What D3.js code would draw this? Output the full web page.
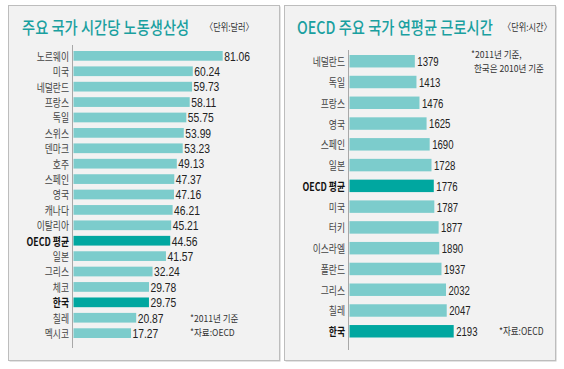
<!DOCTYPE html>
<html><head><meta charset="utf-8">
<script src="https://cdn.jsdelivr.net/npm/d3@7"></script>
<style>
html,body{margin:0;padding:0;background:#fff;}
svg{display:block;}
</style></head>
<body>
<script>
// ---- Data: left panel (hourly labour productivity, USD) ----
const prodCategories = ["노르웨이","미국","네덜란드","프랑스","독일","스위스","덴마크","호주","스페인","영국","캐나다","이탈리아","OECD 평균","일본","그리스","체코","한국","칠레","멕시코"];
const prodValues = [81.06,60.24,59.73,58.11,55.75,53.99,53.23,49.13,47.37,47.16,46.21,45.21,44.56,41.57,32.24,29.78,29.75,20.87,17.27];
const prodLabels = ["81.06","60.24","59.73","58.11","55.75","53.99","53.23","49.13","47.37","47.16","46.21","45.21","44.56","41.57","32.24","29.78","29.75","20.87","17.27"];
const prodHighlight = ["OECD 평균","한국"];

// ---- Data: right panel (annual average working hours) ----
const hoursCategories = ["네덜란드","독일","프랑스","영국","스페인","일본","OECD 평균","미국","터키","이스라엘","폴란드","그리스","칠레","한국"];
const hoursValues = [1379,1413,1476,1625,1690,1728,1776,1787,1877,1890,1937,2032,2047,2193];
const hoursHighlight = ["OECD 평균","한국"];

const leftTitle = "주요 국가 시간당 노동생산성";
const leftUnit = "〈단위:달러〉";
const leftNotes = ["*2011년 기준","*자료:OECD"];
const rightTitle = "OECD 주요 국가 연평균 근로시간";
const rightUnit = "〈단위:시간〉";
const rightNotes = ["*2011년 기준,","한국은 2010년 기준"];
const rightSource = "*자료:OECD";

const W = 564, H = 369;
const LIGHT = "#7ccccc", DARK = "#00a7a0", TITLE = "#1aa0a0";
const KR = "'Noto Sans CJK KR','Noto Sans',sans-serif";
const NUM = "'Liberation Sans Narrow','Liberation Sans',Arial,sans-serif";

const svg = d3.select("body").append("svg").attr("width", W).attr("height", H);

function panel(x0, x1, y0, y1) {
  svg.append("rect").attr("x", x0 + 1.5).attr("y", y0 + 1.5).attr("width", x1 - x0).attr("height", y1 - y0)
    .attr("fill", "#c8c8c8");
  svg.append("rect").attr("x", x0 + 0.5).attr("y", y0 + 0.5).attr("width", x1 - x0).attr("height", y1 - y0)
    .attr("fill", "#f2f2f2").attr("stroke", "#bdbdbd").attr("stroke-width", 1);
}

function ctext(g, x, y, str, opts) {
  return g.append("text")
    .attr("transform", `translate(${x},${y}) scale(${opts.sx || 1},1)`)
    .attr("text-anchor", opts.anchor || "start")
    .attr("dominant-baseline", "central")
    .attr("font-family", opts.family || KR)
    .attr("font-size", opts.size || 11)
    .attr("font-weight", opts.weight || 400)
    .attr("fill", opts.fill || "#333")
    .text(str);
}

panel(8, 279, 5, 360);
panel(284, 555, 5, 360);

// ---------- LEFT PANEL ----------
const gL = svg.append("g");
const yL = d3.scaleBand().domain(prodCategories).range([51, 338]).paddingInner(0.37).paddingOuter(0);
const xL = d3.scaleLinear().domain([-23.1, d3.max(prodValues)]).range([73, 222.7]);

ctext(gL, 22, 27, leftTitle, {size: 17, weight: 500, fill: TITLE, sx: 0.84});
ctext(gL, 205, 27, leftUnit, {size: 10, fill: "#333", sx: 0.82});

gL.append("line").attr("x1", 72.5).attr("x2", 72.5).attr("y1", 45).attr("y2", 348)
  .attr("stroke", "#a8a8a8").attr("stroke-width", 1);

gL.selectAll("rect.bar").data(prodCategories).join("rect").attr("class", "bar")
  .attr("x", xL(xL.domain()[0]) + 0.5)
  .attr("y", d => yL(d))
  .attr("height", yL.bandwidth())
  .attr("width", (d, i) => xL(prodValues[i]) - xL(xL.domain()[0]) - 0.5)
  .attr("fill", d => prodHighlight.includes(d) ? DARK : LIGHT);

prodCategories.forEach((c, i) => {
  const hl = prodHighlight.includes(c);
  ctext(gL, 69, yL(c) + yL.bandwidth() / 2, c, {anchor: "end", size: 11, sx: 0.8,
    weight: hl ? 700 : 400, fill: hl ? "#111" : "#444"});
  ctext(gL, xL(prodValues[i]) + 1.5, yL(c) + yL.bandwidth() / 2 + 0.5, prodLabels[i],
    {size: 12, family: NUM, sx: 0.86, fill: "#222"});
});

ctext(gL, 190, 318.5, leftNotes[0], {size: 9.5, sx: 0.9});
ctext(gL, 190, 332.5, leftNotes[1], {size: 9.5, sx: 0.9});

// ---------- RIGHT PANEL ----------
const gR = svg.append("g");
const yR = d3.scaleBand().domain(hoursCategories).range([55, 337.5]).paddingInner(0.4).paddingOuter(0);
const xR = d3.scaleLinear().domain([0, d3.max(hoursValues)]).range([349, 453.7]);

ctext(gR, 297, 27, rightTitle, {size: 17, weight: 500, fill: TITLE, sx: 0.84});
ctext(gR, 503, 27, rightUnit, {size: 10, fill: "#333", sx: 0.82});

gR.append("line").attr("x1", 348.5).attr("x2", 348.5).attr("y1", 50).attr("y2", 350)
  .attr("stroke", "#a8a8a8").attr("stroke-width", 1);

gR.selectAll("rect.bar").data(hoursCategories).join("rect").attr("class", "bar")
  .attr("x", xR(0) + 0.5)
  .attr("y", d => yR(d))
  .attr("height", yR.bandwidth())
  .attr("width", (d, i) => xR(hoursValues[i]) - xR(0) - 0.5)
  .attr("fill", d => hoursHighlight.includes(d) ? DARK : LIGHT);

hoursCategories.forEach((c, i) => {
  const hl = hoursHighlight.includes(c);
  ctext(gR, 345, yR(c) + yR.bandwidth() / 2, c, {anchor: "end", size: 11, sx: 0.8,
    weight: hl ? 700 : 400, fill: hl ? "#111" : "#444"});
  ctext(gR, xR(hoursValues[i]) + 2.5, yR(c) + yR.bandwidth() / 2 + 0.5, d3.format("d")(hoursValues[i]),
    {size: 12, family: NUM, sx: 0.8, fill: "#222"});
});

ctext(gR, 471, 54, rightNotes[0], {size: 9.5, sx: 0.9});
ctext(gR, 474, 68, rightNotes[1], {size: 9.5, sx: 0.9});
ctext(gR, 499, 331, rightSource, {size: 10, sx: 0.85});
</script>
</body></html>
